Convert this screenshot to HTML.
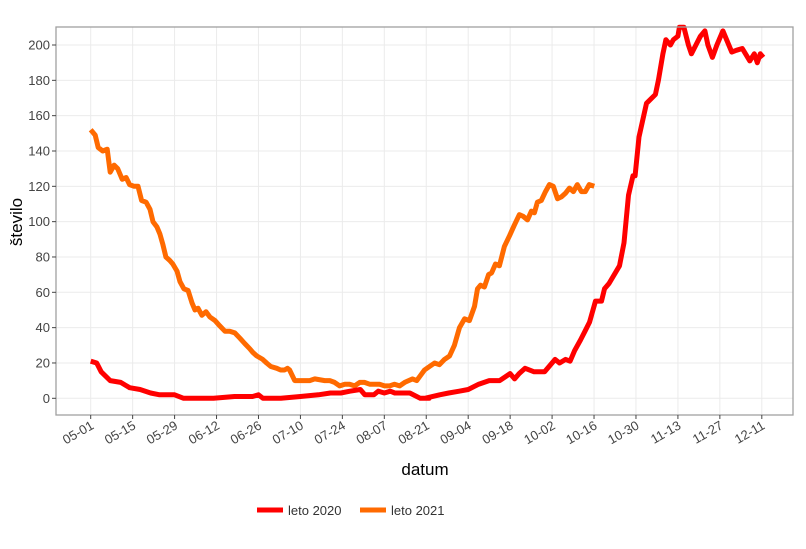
<!DOCTYPE html>
<html><head><meta charset="utf-8"><style>
html,body{margin:0;padding:0;background:#fff;width:806px;height:549px;overflow:hidden}
text{font-family:"Liberation Sans","DejaVu Sans",sans-serif}
</style></head><body>
<svg id="chart" width="806" height="549" viewBox="0 0 806 549" xmlns="http://www.w3.org/2000/svg">
<g id="grid"></g>
<g id="series"></g>
<rect x="56" y="27" width="737" height="388" fill="none" stroke="#a0a0a0" stroke-width="1.3"/>
<g id="axes"></g>
<text x="425" y="475" font-size="17" fill="#000" text-anchor="middle">datum</text>
<text transform="translate(22,222) rotate(-90)" font-size="17" fill="#000" text-anchor="middle">število</text>
<g>
<g><line x1="257" y1="510" x2="283" y2="510" stroke="#ff0000" stroke-width="5"/><text x="288" y="515" font-size="13" fill="#333">leto 2020</text></g>
<g><line x1="360" y1="510" x2="386" y2="510" stroke="#ff6a00" stroke-width="5"/><text x="391" y="515" font-size="13" fill="#333">leto 2021</text></g>
</g>
</svg>
<script>
const xTickLabels=["05-01","05-15","05-29","06-12","06-26","07-10","07-24","08-07","08-21","09-04","09-18","10-02","10-16","10-30","11-13","11-27","12-11"];
const yTicks=[0,20,40,60,80,100,120,140,160,180,200];
const days2020=[0,2,3.5,6.5,10,13,16.5,20,23,28,31,36,41,48,54,56,57.5,60,63.5,70,76,80,83.5,86.5,90,91.5,94.5,96,98,100,101.5,103.5,106.5,110,113,111.5,116.5,119.5,123,126,129.5,133,136.5,140,141.5,143,145,148,151.5,155,156.5,158.5,160,161.5,163.5,165,166.5,168.5,170.5,171.5,173,176.5,178,179.5,181,181.7,183,185.5,188.5,189.5,191,192,193.5,194.5,196,196.5,198,199.5,200.5,202,203.5,205,206,207.5,209,211,213,214,215.5,217.5,220,221.5,222.5,223.5,224.5];
const vals2020=[21,20,15,10,9,6,5,3,2,2,0,0,0,1,1,2,0,0,0,1,2,3,3,4,5,2,2,4,3,4,3,3,3,0,0,0,2,3,4,5,8,10,10,14,11,14,17,15,15,22,20,22,21,27,33,38,43,55,55,62,65,75,88,115,126,126,148,167,172,180,195,203,200,203,205,210,210,200,195,200,205,208,200,193,200,208,200,196,197,198,191,195,190,195,193];
const days2021=[0,1.5,2.5,4,5.5,6.5,7.8,9,10.5,11.8,13,14.5,15.8,17,18.5,19.8,20.8,22.1,23.1,24.1,25.1,26.4,27.4,28.8,29.8,31.1,32.5,33.8,34.8,35.8,37.1,38.5,39.8,41.5,43.1,44.8,46.4,48.1,49.8,51.4,53.1,54.1,55.4,57.4,58.7,60.1,62.1,63.4,64.7,65.7,66.4,68.1,69.7,71.4,73.1,74.8,78.1,79.8,81.4,83.1,84.8,86.4,88.1,89.8,91.4,93.1,94.8,96.4,98.1,99.8,101.4,103.1,104.8,106.1,107.4,108.8,110.1,111.4,113.1,114.8,116.4,118.1,119.8,121.4,123.1,124.8,126.4,128.1,129.1,130.1,131.4,132.8,133.8,135.1,136.4,138.1,139.8,141.4,143.1,144.4,145.8,147.1,148.1,149.1,150.4,151.8,153.1,154.4,155.8,157.1,158.4,159.8,161.1,162.4,163.8,165.1,166.4,168.1];
const vals2021=[152,149,142,140,141,128,132,130,124,125,121,120,120,112,111,107,100,97,93,87,80,78,76,72,66,62,61,54,50,51,47,49,46,44,41,38,38,37,34,31,28,26,24,22,20,18,17,16,16,17,16,10,10,10,10,11,10,10,9,7,8,8,7,9,9,8,8,8,7,7,8,7,9,10,11,10,13,16,18,20,19,22,24,30,40,45,44,52,62,64,63,70,71,76,75,86,92,98,104,103,101,106,105,111,112,117,121,120,113,114,116,119,117,121,117,117,121,120,122,121];
const NS="http://www.w3.org/2000/svg";
function sx(d){return 90.7+d*2.996;}
function sy(v){return 398.3-v*1.7665;}
function mk(tag,attrs,parent){const e=document.createElementNS(NS,tag);for(const k in attrs)e.setAttribute(k,attrs[k]);parent.appendChild(e);return e;}
const grid=document.getElementById('grid'),axes=document.getElementById('axes'),series=document.getElementById('series');
yTicks.forEach(v=>{
  const l=mk('line',{x1:56,x2:793,y1:sy(v),y2:sy(v),stroke:'#ebebeb','stroke-width':1},grid);
  
  
  const t=mk('line',{x1:52,x2:56,y1:sy(v),y2:sy(v),stroke:'#444','stroke-width':1},axes);
  
  
  const tx=mk('text',{x:50,y:sy(v)+4.5,'font-size':13,fill:'#444','text-anchor':'end'},axes);
  tx.textContent=v;
  
  
});
xTickLabels.forEach((lab,i)=>{
  const x=sx(i*14);
  const l=mk('line',{x1:x,x2:x,y1:27,y2:415,stroke:'#ebebeb','stroke-width':1},grid);
  
  
  const t=mk('line',{x1:x,x2:x,y1:415,y2:419,stroke:'#444','stroke-width':1},axes);
  
  
  const tx=mk('text',{transform:`translate(${x+4},${428}) rotate(-30)`,'font-size':13,fill:'#444','text-anchor':'end'},axes);
  tx.textContent=lab;
  
  
});
function drawLine(days,vals,color,name){
  const pts=days.map((d,i)=>sx(d).toFixed(1)+','+sy(Math.min(vals[i],211)).toFixed(1)).join(' ');
  const p=mk('polyline',{points:pts,fill:'none',stroke:color,'stroke-width':5,'stroke-linejoin':'round'},series);
  
  
}
drawLine(days2021,vals2021,'#ff6a00','line-leto-2021');
drawLine(days2020,vals2020,'#ff0000','line-leto-2020');
</script>
</body></html>
